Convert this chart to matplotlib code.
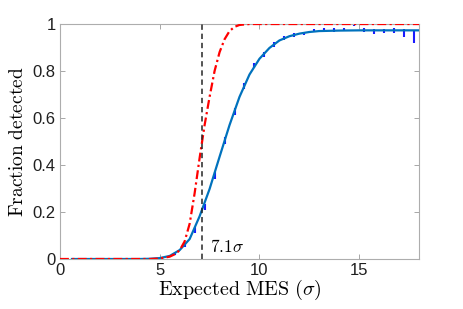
import matplotlib
matplotlib.use("Agg")
import matplotlib.pyplot as plt
import numpy as np

plt.rcParams['mathtext.fontset'] = 'cm'
plt.rcParams['font.family'] = ['Liberation Sans', 'DejaVu Sans']

# Measured detection fraction (error bars)
mes_x = [0.25, 0.75, 1.25, 1.75, 2.25, 2.75, 3.25, 3.75, 4.25, 4.75, 5.25, 5.75,
         6.25, 6.75, 7.25, 7.75, 8.25, 8.75, 9.25, 9.75, 10.25, 10.75, 11.25, 11.75,
         12.25, 12.75, 13.25, 13.75, 14.25, 14.75, 15.25, 15.75, 16.25, 16.75, 17.25, 17.75]
frac = [0.0, 0.0, 0.0, 0.0, 0.0, 0.0, 0.0, 0.0, 0.001, 0.003, 0.008, 0.025,
        0.06, 0.123, 0.222, 0.357, 0.506, 0.627, 0.736, 0.823, 0.871, 0.912, 0.942, 0.953,
        0.960, 0.971, 0.975, 0.975, 0.978, 0.996, 0.974, 0.967, 0.970, 0.972, 0.960, 0.948]
frac_err = [0.0, 0.0, 0.0, 0.0, 0.0, 0.0, 0.0, 0.0, 0.001, 0.002, 0.004, 0.006,
            0.009, 0.012, 0.014, 0.015, 0.015, 0.014, 0.013, 0.012, 0.011, 0.010, 0.009, 0.009,
            0.008, 0.007, 0.007, 0.007, 0.007, 0.004, 0.008, 0.010, 0.009, 0.010, 0.017, 0.027]

# Fitted curve (solid blue)
fit_x = [0.6, 2.0, 4.0, 4.5, 5.0, 5.5, 6.0, 6.5, 7.0, 7.5, 8.0, 8.5, 9.0, 9.5, 10.0,
         10.5, 11.0, 11.5, 12.0, 12.5, 13.0, 14.0, 15.0, 18.0]
fit_y = [0.0, 0.0, 0.0, 0.001, 0.004, 0.013, 0.038, 0.085, 0.182, 0.298, 0.435, 0.57, 0.69,
         0.785, 0.852, 0.898, 0.93, 0.948, 0.959, 0.966, 0.970, 0.972, 0.973, 0.973]

# Expected (theoretical) curve (red dash-dot)
th_x = [0.0, 4.5, 5.0, 5.5, 5.75, 6.0, 6.25, 6.5, 6.75, 7.0, 7.25, 7.5, 7.75, 8.0,
        8.25, 8.5, 8.75, 9.0, 9.5, 18.0]
th_y = [0.0, 0.0, 0.002, 0.01, 0.02, 0.037, 0.075, 0.15, 0.28, 0.43, 0.57, 0.69, 0.8,
        0.88, 0.935, 0.97, 0.988, 0.996, 1.0, 1.0]

threshold = 7.1

fig = plt.figure(figsize=(4.63, 3.09), dpi=100)
ax = fig.add_axes([0.1296, 0.1618, 0.7754, 0.7605])

ax.errorbar(mes_x, frac, yerr=frac_err, fmt='none', ecolor=(0.1, 0.1, 1.0),
            elinewidth=1.5, capsize=0, zorder=2)
ax.plot(fit_x, fit_y, color=(0, 0.447, 0.741), lw=1.6, zorder=3)
ax.plot(th_x, th_y, color='red', lw=1.6, linestyle=(0, (4, 1.5, 1, 1.5)), zorder=4)
ax.plot([threshold, threshold], [0, 1], color=(0.15, 0.15, 0.15), lw=1.1,
        linestyle=(0, (3.5, 2.5)), zorder=5)
ax.text(7.52, 0.03, r'$7.1\sigma$', fontsize=12.5, color='black')

ax.set_xlim(0, 18)
ax.set_ylim(0, 1)
ax.set_xticks([0, 5, 10, 15])
ax.set_xticklabels(['0', '5', '10', '15'])
ax.set_yticks([0, 0.2, 0.4, 0.6, 0.8, 1])
ax.set_yticklabels(['0', '0.2', '0.4', '0.6', '0.8', '1'])
ax.tick_params(direction='in', length=3.5, width=0.6, color=(0.6, 0.6, 0.6),
               labelsize=12, top=True, right=True, pad=3, labelcolor=(0.12, 0.12, 0.12))
for s in ax.spines.values():
    s.set_color((0.68, 0.68, 0.68))
    s.set_linewidth(0.8)

ax.set_xlabel(r'$\mathrm{Expected\ MES}\ (\sigma)$', fontsize=14.5, labelpad=0)
ax.set_ylabel(r'$\mathrm{Fraction\ detected}$', fontsize=14, labelpad=4)

fig.savefig('out.png', dpi=100)
